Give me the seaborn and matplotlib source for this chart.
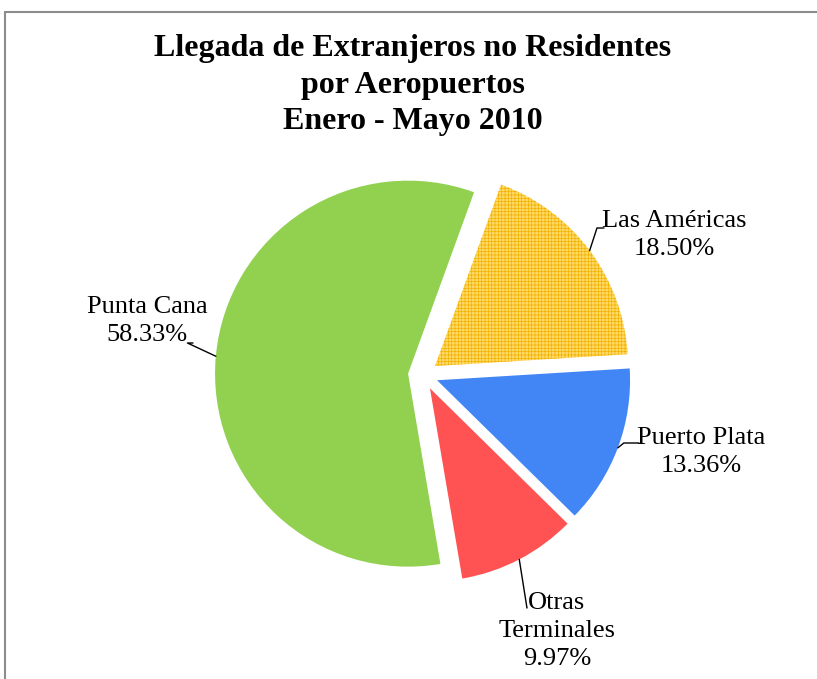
import numpy as np
import matplotlib.pyplot as plt
import seaborn as sns
from matplotlib.patches import Rectangle

# datos del grafico
aeropuertos = ['Las Américas', 'Puerto Plata', 'Otras\nTerminales', 'Punta Cana']
porcentajes = [18.50, 13.36, 9.97, 58.33]
colores = ['#FFD966', '#4286F5', '#FF5252', '#92D050']
titulo = 'Llegada de Extranjeros no Residentes\npor Aeropuertos\nEnero - Mayo 2010'

sns.set_theme(style='white')
plt.rcParams['font.family'] = ['Liberation Serif', 'DejaVu Serif']
plt.rcParams['hatch.linewidth'] = 0.5

W, H = 817, 679
fig = plt.figure(figsize=(W / 100, H / 100), dpi=100)
ax = fig.add_axes([0, 0, 1, 1])

wedges, _ = ax.pie(porcentajes, colors=colores, startangle=70, counterclock=False,
                   explode=[15] * 4, radius=193, center=(423, H - 375),
                   wedgeprops=dict(linewidth=0))
ax.set_xlim(0, W)
ax.set_ylim(0, H)
ax.axis('off')

# trama cuadriculada de Las Americas
wedges[0].set_hatch('+++++')
wedges[0].set_edgecolor('#F2B200')
wedges[0].set_linewidth(0)

# posiciones de las etiquetas y de las lineas guia (pixeles, y desde arriba)
pos_texto = [(674, 235), (701, 452), (557, 631), (147, 321)]
pos_guia = [(604, 228), (639, 443), (527, 608), (193, 343)]
ang_guia = [72, 39, -81, 155]

for w, nombre, val, (tx, ty), (gx, gy), ag in zip(wedges, aeropuertos, porcentajes,
                                                 pos_texto, pos_guia, ang_guia):
    ang = np.deg2rad((w.theta1 + w.theta2) / 2)
    cx, cy = w.center
    xy = (cx + w.r * np.cos(ang), cy + w.r * np.sin(ang))
    ax.text(tx, H - ty, f'{nombre}\n{val:.2f}%', ha='center', va='center',
            fontsize=19, linespacing=1.38, color='black')
    ax.annotate('', xy=xy, xytext=(gx, H - gy),
                arrowprops=dict(arrowstyle='-', color='black', lw=1,
                                shrinkA=0, shrinkB=0,
                                connectionstyle=f'angle,angleA=0,angleB={ag},rad=0'))

fig.text(413 / W, 1 - 34 / H, titulo, ha='center', va='top', fontsize=23,
         fontweight='bold', linespacing=1.35, color='black')

# marco gris
fig.add_artist(Rectangle((5 / W, -0.05), 1.1, 1 - 12 / H + 0.05,
                         transform=fig.transFigure, fill=False,
                         edgecolor='#8C8C8C', linewidth=1.5))

fig.savefig('out.png', dpi=100)
